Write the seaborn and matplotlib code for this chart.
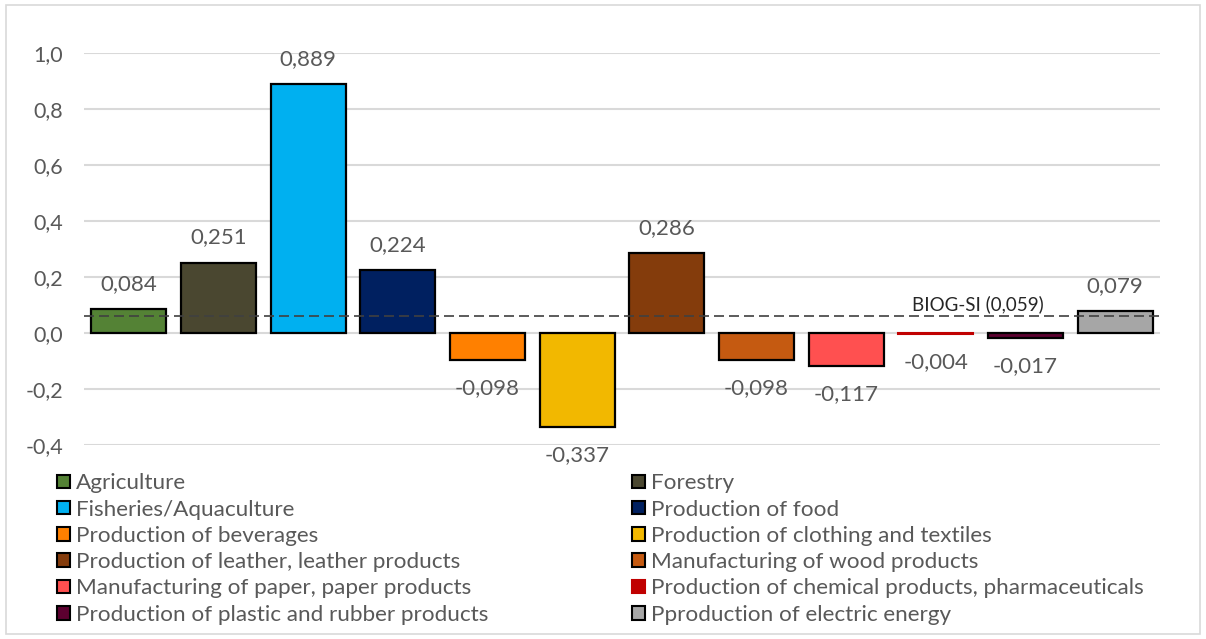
import matplotlib
matplotlib.use("Agg")
import matplotlib.pyplot as plt
from matplotlib.patches import Patch, Rectangle
from matplotlib.ticker import FixedLocator, FuncFormatter
import seaborn as sns
import pandas as pd

categories = [
    "Agriculture",
    "Forestry",
    "Fisheries/Aquaculture",
    "Production of food",
    "Production of beverages",
    "Production of clothing and textiles",
    "Production of leather, leather products",
    "Manufacturing of wood products",
    "Manufacturing of paper, paper products",
    "Production of chemical products, pharmaceuticals",
    "Production of plastic and rubber products",
    "Pproduction of electric energy",
]
values = [0.084, 0.251, 0.889, 0.224, -0.098, -0.337, 0.286, -0.098, -0.117, -0.004, -0.017, 0.079]
colors = ["#548235", "#4A4730", "#00B0F0", "#002060", "#FF8000", "#F2B800",
          "#843C0C", "#C55A11", "#FF5050", "#C00000", "#5C0030", "#A6A6A6"]
reference_value = 0.059
reference_label = "BIOG-SI (0,059)"
y_ticks = [-0.4, -0.2, 0.0, 0.2, 0.4, 0.6, 0.8, 1.0]

sns.set_theme(style="white")
plt.rcParams["font.family"] = ["Lato", "DejaVu Sans"]
text_gray = "#595959"

fig = plt.figure(figsize=(12.06, 6.39), dpi=100)
ax = fig.add_axes([84 / 1206, 1 - 445 / 639, (1160 - 84) / 1206, (445 - 53) / 639])

df = pd.DataFrame({"sector": categories, "value": values})
sns.barplot(data=df, x="sector", y="value", hue="sector", order=categories,
            hue_order=categories, palette=colors, saturation=1, dodge=False, legend=False,
            width=0.84, edgecolor="black", linewidth=1.6, ax=ax, zorder=3)

# the chemical-products bar has no outline
for patch, cat, col in zip(ax.patches, categories, colors):
    if cat.startswith("Production of chemical"):
        patch.set_edgecolor(col)
        patch.set_linewidth(1.5)

ax.set_ylim(-0.4, 1.0)
ax.set_xlim(-0.5, len(categories) - 0.5)
ax.yaxis.set_major_locator(FixedLocator(y_ticks))
ax.yaxis.set_major_formatter(FuncFormatter(lambda v, p: f"{v:.1f}".replace(".", ",").replace("-0,0", "0,0")))
ax.tick_params(axis="y", labelsize=15.5, labelcolor=text_gray, length=0, pad=15)
ax.set_xticks([])
ax.set_xlabel("")
ax.set_ylabel("")
for s in ax.spines.values():
    s.set_visible(False)
ax.grid(axis="y", color="#D9D9D9", linewidth=1.5, zorder=0)
ax.set_axisbelow(True)

# value labels
for i, v in enumerate(values):
    txt = f"{v:.3f}".replace(".", ",")
    if v >= 0:
        ax.annotate(txt, (i, v), xytext=(0, 11), textcoords="offset points",
                    ha="center", va="bottom", fontsize=16, color=text_gray, clip_on=False)
    else:
        ax.annotate(txt, (i, v), xytext=(0, -13), textcoords="offset points",
                    ha="center", va="top", fontsize=16, color=text_gray, clip_on=False)

# reference line
ax.axhline(reference_value, color="#404040", linestyle=(0, (6, 3)), linewidth=1.2, zorder=4)
ax.text(9.47, reference_value + 0.012, reference_label, ha="center", va="bottom",
        fontsize=13.5, color="#262626", zorder=5)

# legend in two columns, filled row by row
handles = [Patch(facecolor=c, edgecolor=(c if cat.startswith("Production of chemical") else "black"),
                 linewidth=1.5, label=cat) for cat, c in zip(categories, colors)]
leg_kw = dict(frameon=False, fontsize=16.2, handlelength=0.55, handleheight=0.55,
              handletextpad=0.3, labelspacing=0.28, borderpad=0, labelcolor=text_gray)
leg1 = fig.legend(handles=handles[0::2], loc="upper left",
                  bbox_to_anchor=(46 / 1206, 1 - 462 / 639), **leg_kw)
leg2 = fig.legend(handles=handles[1::2], loc="upper left",
                  bbox_to_anchor=(621 / 1206, 1 - 462 / 639), **leg_kw)

# chart frame
fig.patches.append(Rectangle((6 / 1206, 5 / 639), 1194 / 1206, 629 / 639,
                             transform=fig.transFigure, fill=False,
                             edgecolor="#D9D9D9", linewidth=1.2))

fig.savefig("out.png", dpi=100)
